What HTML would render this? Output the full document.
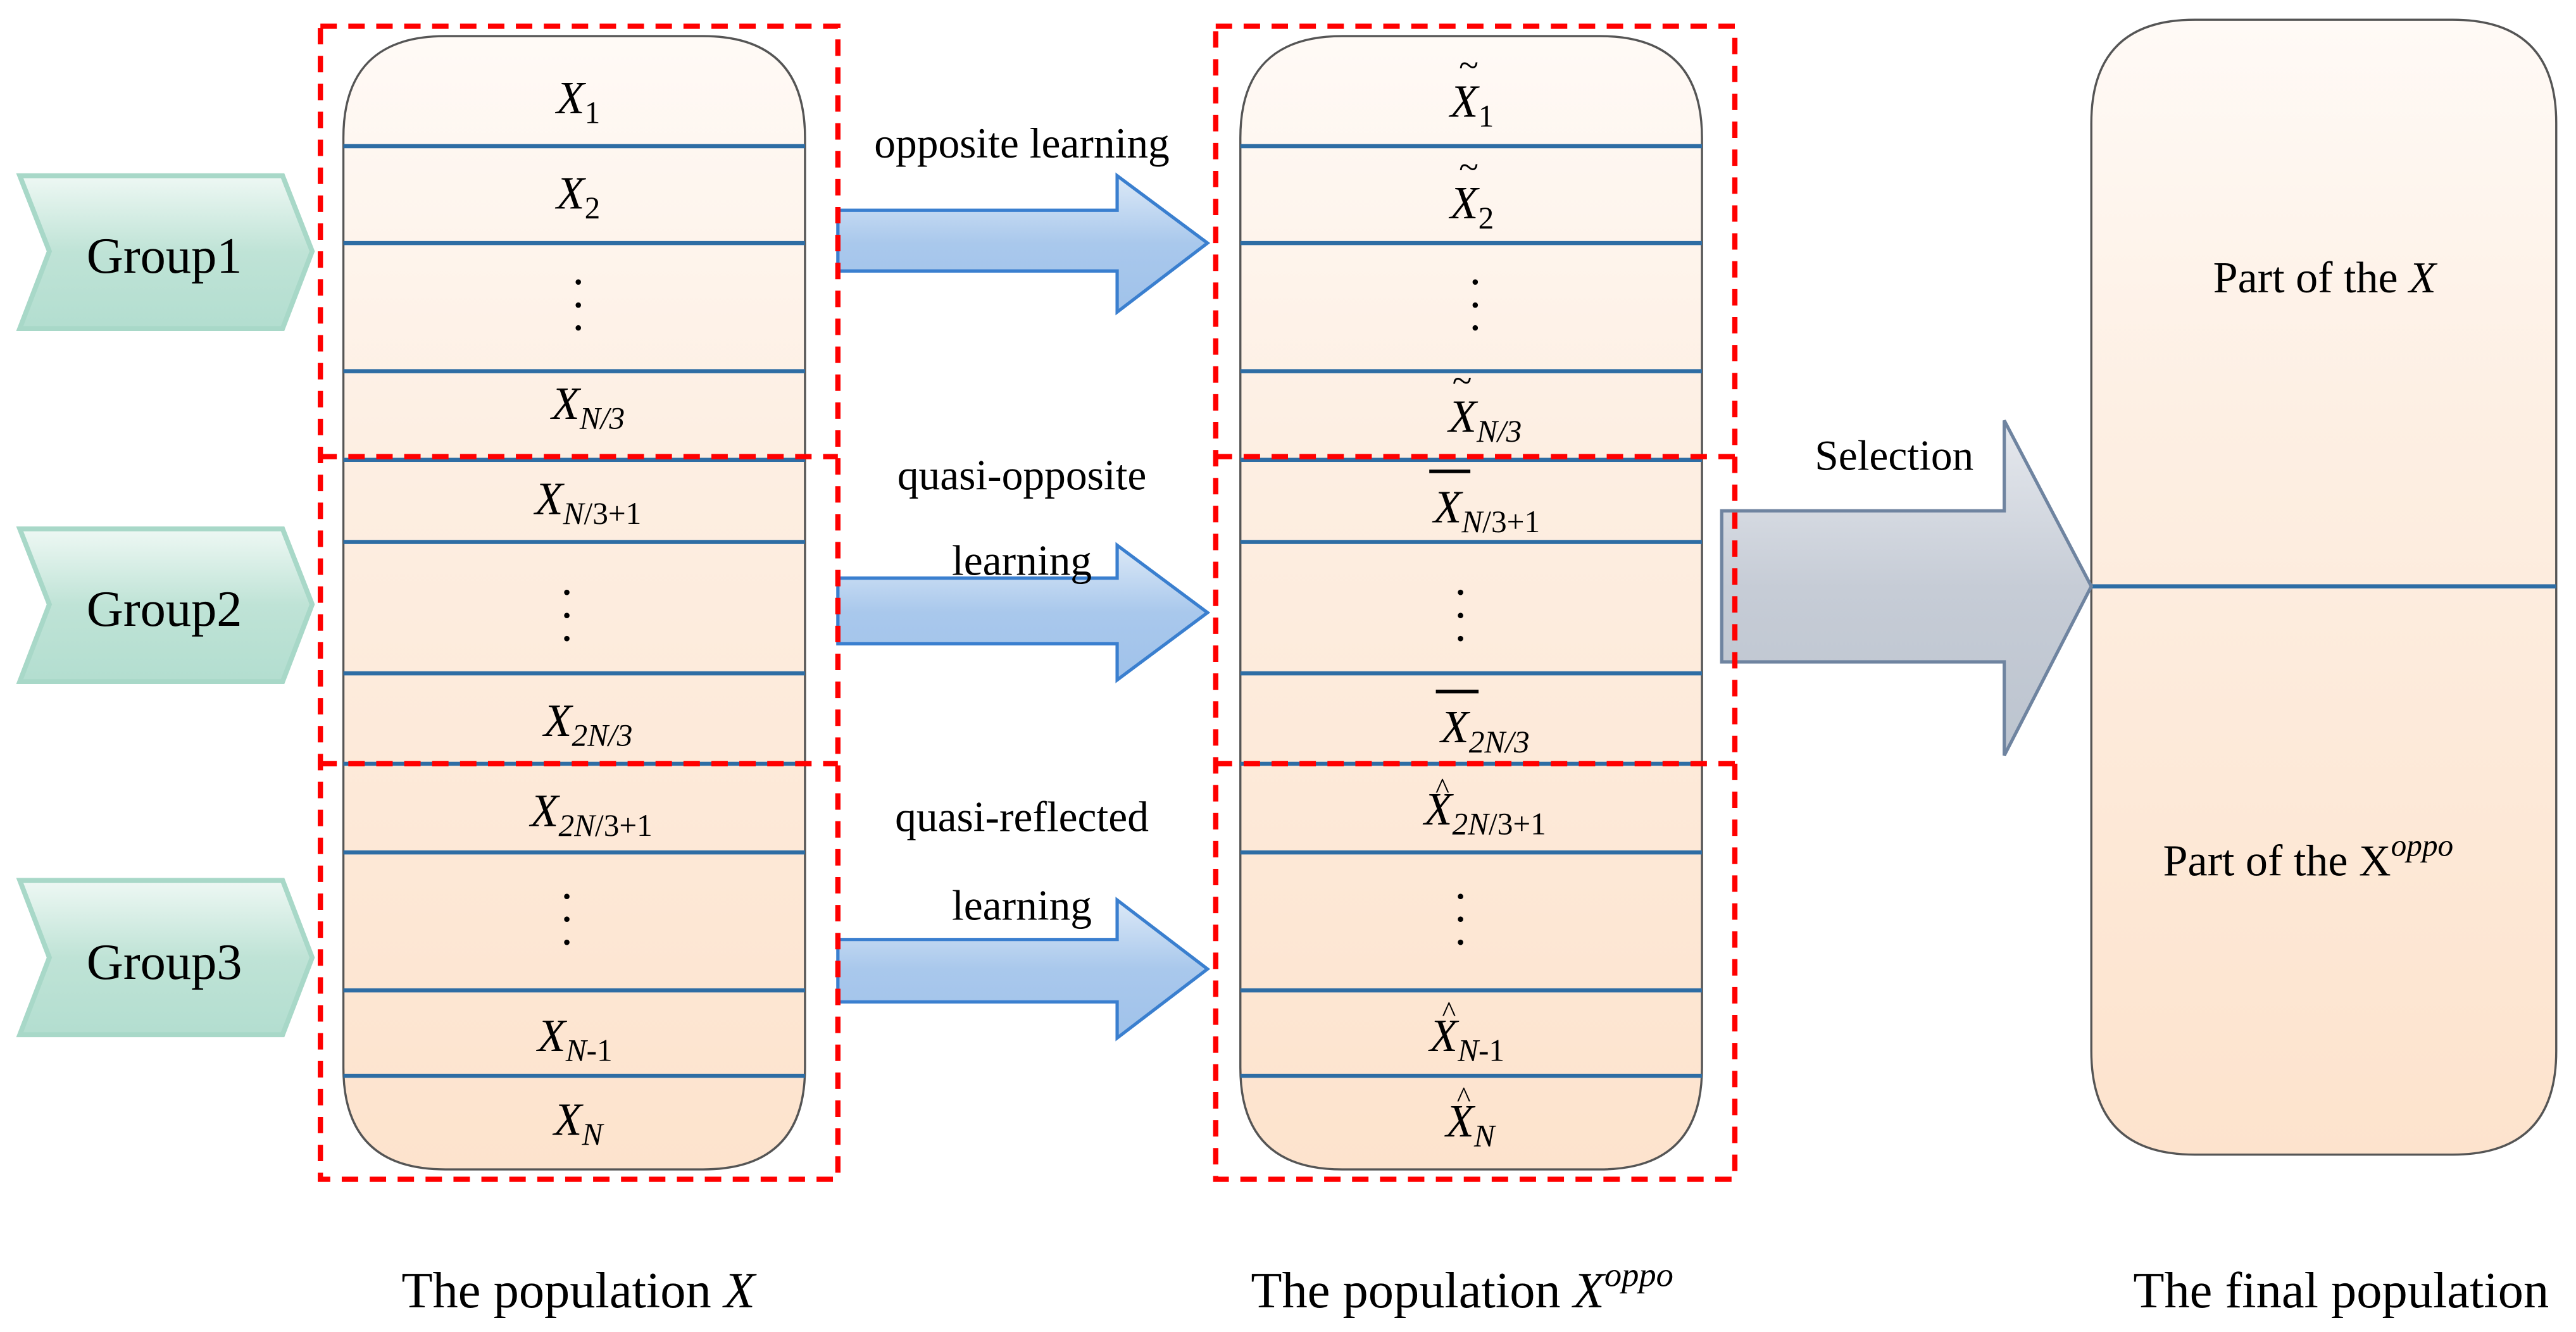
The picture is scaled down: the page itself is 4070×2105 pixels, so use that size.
<!DOCTYPE html>
<html><head><meta charset="utf-8"><style>html,body{margin:0;padding:0;background:#fff}svg{display:block}</style></head>
<body>
<svg width="4070" height="2105" viewBox="0 0 1568 811" xmlns="http://www.w3.org/2000/svg" font-family="'Liberation Serif', serif">
<defs>
<linearGradient id="pill" x1="0" y1="0" x2="0" y2="1">
<stop offset="0" stop-color="#fffaf6"/><stop offset="0.35" stop-color="#fdefe3"/><stop offset="1" stop-color="#fde3cd"/></linearGradient>
<linearGradient id="grp" x1="0" y1="0" x2="0" y2="1">
<stop offset="0" stop-color="#eef8f4"/><stop offset="0.5" stop-color="#bfe3d6"/><stop offset="1" stop-color="#b3ded0"/></linearGradient>
<linearGradient id="blue" x1="0" y1="0" x2="0" y2="1">
<stop offset="0" stop-color="#dce9f7"/><stop offset="0.5" stop-color="#a9c8ec"/><stop offset="1" stop-color="#a0c2ea"/></linearGradient>
<linearGradient id="gray" x1="0" y1="0" x2="0" y2="1">
<stop offset="0" stop-color="#e6e9ee"/><stop offset="0.5" stop-color="#c6ccd6"/><stop offset="1" stop-color="#bcc4cf"/></linearGradient>
</defs>

<!-- Group chevrons -->
<g fill="url(#grp)" stroke="#a8d8c8" stroke-width="3">
<polygon points="12,107 172,107 190,153 172,200 12,200 30,153"/>
<polygon points="12,322 172,322 190,368 172,415 12,415 30,368"/>
<polygon points="12,536 172,536 190,583 172,630 12,630 30,583"/>
</g>
<g font-size="31" text-anchor="middle" fill="#000">
<text x="100" y="166">Group1</text>
<text x="100" y="381">Group2</text>
<text x="100" y="596">Group3</text>
</g>

<!-- Left pill -->
<path d="M209,84 Q209,22 271,22 L428,22 Q490,22 490,84 L490,650 Q490,712 428,712 L271,712 Q209,712 209,650 Z" fill="url(#pill)" stroke="#555" stroke-width="1.3"/>
<!-- Middle pill -->
<path d="M755,84 Q755,22 817,22 L974,22 Q1036,22 1036,84 L1036,650 Q1036,712 974,712 L817,712 Q755,712 755,650 Z" fill="url(#pill)" stroke="#555" stroke-width="1.3"/>
<!-- Right pill -->
<path d="M1273,75 Q1273,12 1336,12 L1493,12 Q1556,12 1556,75 L1556,640 Q1556,703 1493,703 L1336,703 Q1273,703 1273,640 Z" fill="url(#pill)" stroke="#555" stroke-width="1.3"/>
<line x1="1273" y1="357" x2="1556" y2="357" stroke="#2e6da4" stroke-width="2.5"/>

<g stroke="#2e6da4" stroke-width="2.5">
<line x1="209" y1="89" x2="490" y2="89"/><line x1="209" y1="148" x2="490" y2="148"/><line x1="209" y1="226" x2="490" y2="226"/>
<line x1="209" y1="280" x2="490" y2="280"/><line x1="209" y1="330" x2="490" y2="330"/><line x1="209" y1="410" x2="490" y2="410"/>
<line x1="209" y1="465" x2="490" y2="465"/><line x1="209" y1="519" x2="490" y2="519"/><line x1="209" y1="603" x2="490" y2="603"/>
<line x1="209" y1="655" x2="490" y2="655"/>
<line x1="755" y1="89" x2="1036" y2="89"/><line x1="755" y1="148" x2="1036" y2="148"/><line x1="755" y1="226" x2="1036" y2="226"/>
<line x1="755" y1="280" x2="1036" y2="280"/><line x1="755" y1="330" x2="1036" y2="330"/><line x1="755" y1="410" x2="1036" y2="410"/>
<line x1="755" y1="465" x2="1036" y2="465"/><line x1="755" y1="519" x2="1036" y2="519"/><line x1="755" y1="603" x2="1036" y2="603"/>
<line x1="755" y1="655" x2="1036" y2="655"/>
</g>

<!-- Blue arrows -->
<g fill="url(#blue)" stroke="#3a7fcf" stroke-width="2">
<polygon points="510,128 680,128 680,107 735,148 680,190 680,165 510,165"/>
<polygon points="510,352 680,352 680,332 735,373 680,414 680,392 510,392"/>
<polygon points="510,572 680,572 680,548 735,590 680,632 680,610 510,610"/>
</g>
<!-- Gray arrow -->
<polygon points="1048,311 1220,311 1220,256 1273,357 1220,460 1220,403 1048,403" fill="url(#gray)" stroke="#6f84a0" stroke-width="2"/>

<!-- Red dashed boxes -->
<g fill="none" stroke="#ff0000" stroke-width="3.2" stroke-dasharray="10,7">
<rect x="195" y="16" width="315" height="702"/>
<line x1="195" y1="278" x2="510" y2="278"/><line x1="195" y1="465" x2="510" y2="465"/>
<rect x="740" y="16" width="316" height="702"/>
<line x1="740" y1="278" x2="1056" y2="278"/><line x1="740" y1="465" x2="1056" y2="465"/>
</g>

<!-- Left labels -->
<g font-size="28" fill="#000" text-anchor="middle">
<text x="352" y="69"><tspan font-style="italic">X</tspan><tspan font-size="19" dy="6">1</tspan></text>
<text x="352" y="127"><tspan font-style="italic">X</tspan><tspan font-size="19" dy="6">2</tspan></text>
<text x="352" y="173">.</text><text x="352" y="187">.</text><text x="352" y="201">.</text>
<text x="358" y="255"><tspan font-style="italic">X</tspan><tspan font-size="19" dy="6" font-style="italic">N/3</tspan></text>
<text x="358" y="313"><tspan font-style="italic">X</tspan><tspan font-size="19" dy="6"><tspan font-style="italic">N</tspan>/3+1</tspan></text>
<text x="345" y="362">.</text><text x="345" y="376">.</text><text x="345" y="390">.</text>
<text x="358" y="448"><tspan font-style="italic">X</tspan><tspan font-size="19" dy="6" font-style="italic">2N/3</tspan></text>
<text x="360" y="503"><tspan font-style="italic">X</tspan><tspan font-size="19" dy="6"><tspan font-style="italic">2N</tspan>/3+1</tspan></text>
<text x="345" y="547">.</text><text x="345" y="561">.</text><text x="345" y="575">.</text>
<text x="350" y="640"><tspan font-style="italic">X</tspan><tspan font-size="19" dy="6"><tspan font-style="italic">N</tspan>-1</tspan></text>
<text x="352" y="691"><tspan font-style="italic">X</tspan><tspan font-size="19" dy="6" font-style="italic">N</tspan></text>
</g>

<!-- Middle labels -->
<g font-size="28" fill="#000" text-anchor="middle">
<text x="896" y="71"><tspan font-style="italic">X</tspan><tspan font-size="19" dy="6">1</tspan></text>
<text x="894" y="47" font-size="22">~</text>
<text x="896" y="133"><tspan font-style="italic">X</tspan><tspan font-size="19" dy="6">2</tspan></text>
<text x="894" y="109" font-size="22">~</text>
<text x="898" y="173">.</text><text x="898" y="187">.</text><text x="898" y="201">.</text>
<text x="904" y="263"><tspan font-style="italic">X</tspan><tspan font-size="19" dy="6" font-style="italic">N/3</tspan></text>
<text x="890" y="239" font-size="22">~</text>
<text x="905" y="318"><tspan font-style="italic">X</tspan><tspan font-size="19" dy="6"><tspan font-style="italic">N</tspan>/3+1</tspan></text>
<line x1="870" y1="287" x2="895" y2="287" stroke="#000" stroke-width="2.2"/>
<text x="889" y="362">.</text><text x="889" y="376">.</text><text x="889" y="390">.</text>
<text x="904" y="452"><tspan font-style="italic">X</tspan><tspan font-size="19" dy="6" font-style="italic">2N/3</tspan></text>
<line x1="874" y1="421" x2="900" y2="421" stroke="#000" stroke-width="2.2"/>
<text x="904" y="502"><tspan font-style="italic">X</tspan><tspan font-size="19" dy="6"><tspan font-style="italic">2N</tspan>/3+1</tspan></text>
<text x="878" y="486" font-size="18">^</text>
<text x="889" y="547">.</text><text x="889" y="561">.</text><text x="889" y="575">.</text>
<text x="893" y="640"><tspan font-style="italic">X</tspan><tspan font-size="19" dy="6"><tspan font-style="italic">N</tspan>-1</tspan></text>
<text x="882" y="622" font-size="18">^</text>
<text x="895" y="692"><tspan font-style="italic">X</tspan><tspan font-size="19" dy="6" font-style="italic">N</tspan></text>
<text x="891" y="674" font-size="18">^</text>
</g>

<!-- Arrow labels -->
<g font-size="26" fill="#000" text-anchor="middle">
<text x="622" y="96">opposite learning</text>
<text x="622" y="298">quasi-opposite</text>
<text x="622" y="350">learning</text>
<text x="622" y="506">quasi-reflected</text>
<text x="622" y="560">learning</text>
<text x="1153" y="286">Selection</text>
</g>

<!-- Right pill labels -->
<g font-size="27" fill="#000" text-anchor="middle">
<text x="1415" y="178">Part of the <tspan font-style="italic">X</tspan></text>
<text x="1405" y="533">Part of the  X<tspan font-size="19" dy="-12" font-style="italic">oppo</tspan></text>
</g>

<!-- Captions -->
<g font-size="31" fill="#000" text-anchor="middle">
<text x="352" y="796">The population <tspan font-style="italic">X</tspan></text>
<text x="890" y="796">The population <tspan font-style="italic">X</tspan><tspan font-size="21" dy="-13" font-style="italic">oppo</tspan></text>
<text x="1425" y="796">The final population</text>
</g>
</svg>
</body></html>
